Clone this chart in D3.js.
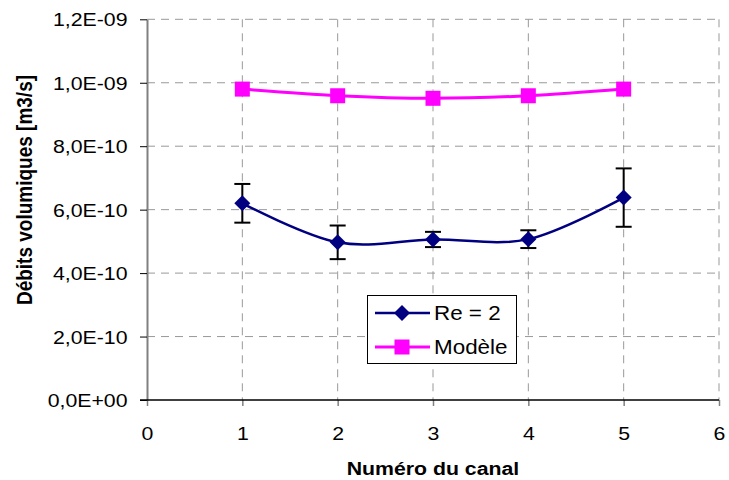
<!DOCTYPE html>
<html>
<head>
<meta charset="utf-8">
<script src="https://cdn.jsdelivr.net/npm/d3@7"></script>
<style>
  body { margin: 0; background: #fff; }
  svg { font-family: Arial, "Liberation Sans", sans-serif; }
</style>
</head>
<body>
<div id="chart"></div>
<script>
// data
const canaux = [1, 2, 3, 4, 5];
const reValues = [6.20e-10, 4.97e-10, 5.06e-10, 5.07e-10, 6.38e-10];
const reErrors = [0.61e-10, 0.53e-10, 0.24e-10, 0.28e-10, 0.92e-10];
const modeleValues = [9.80e-10, 9.59e-10, 9.51e-10, 9.59e-10, 9.80e-10];
const xTicks = [0, 1, 2, 3, 4, 5, 6];
const yTicks = [0, 2e-10, 4e-10, 6e-10, 8e-10, 1.0e-9, 1.2e-9];

const width = 729, height = 480;
const stretch = 1.15; // the original picture is a bit wider than tall

const svg = d3.select("#chart").append("svg")
  .attr("width", width)
  .attr("height", height);

const x = d3.scaleLinear().domain([0, 6]).range([147, 719]);
const y = d3.scaleLinear().domain([0, 1.2e-9]).range([400, 19.3]);

function fmtSci(v) {
  if (v === 0) return "0,0E+00";
  let e = Math.floor(Math.log10(v) + 1e-9);
  let m = v / Math.pow(10, e);
  const s = m.toFixed(1).replace(".", ",");
  const es = (e < 0 ? "-" : "+") + String(Math.abs(e)).padStart(2, "0");
  return s + "E" + es;
}

// grid
const grid = svg.append("g")
  .attr("stroke", "#999")
  .attr("stroke-width", 1)
  .attr("stroke-dasharray", "8,6");

grid.selectAll("line.h")
  .data(yTicks.filter(d => d > 0))
  .enter().append("line")
  .attr("x1", x(0)).attr("x2", x(6))
  .attr("y1", d => y(d)).attr("y2", d => y(d));

grid.selectAll("line.v")
  .data(xTicks.filter(d => d > 0))
  .enter().append("line")
  .attr("x1", d => x(d)).attr("x2", d => x(d))
  .attr("y1", y(1.2e-9)).attr("y2", y(0));

// axes
const yAxis = svg.append("g")
  .attr("transform", `translate(${x(0)},0)`)
  .call(d3.axisLeft(y).tickValues(yTicks).tickFormat(fmtSci).tickSize(7).tickSizeOuter(0));
yAxis.select(".domain").attr("stroke", "#808080").attr("stroke-width", 2);
yAxis.selectAll(".tick line").attr("stroke", "#000");
yAxis.selectAll(".tick text")
  .attr("x", -17)
  .attr("dy", "0.36em")
  .attr("transform", `scale(${stretch},1)`)
  .attr("font-size", 18.5)
  .attr("fill", "#000");

const xAxis = svg.append("g")
  .attr("transform", `translate(0,${y(0)})`)
  .call(d3.axisBottom(x).tickValues(xTicks).tickFormat(d3.format("d")).tickSize(6).tickSizeOuter(0));
xAxis.select(".domain").remove();
xAxis.append("line")
  .attr("x1", x(0) - 7).attr("x2", x(6))
  .attr("stroke", "#000").attr("stroke-width", 1.5);
xAxis.selectAll(".tick line").attr("stroke", "#808080").attr("stroke-width", 1.5);
xAxis.selectAll(".tick text")
  .attr("y", 40)
  .attr("dy", 0)
  .attr("transform", `scale(${stretch},1)`)
  .attr("font-size", 18.5)
  .attr("fill", "#000");

// axis titles
svg.append("text")
  .attr("transform", `translate(433,475) scale(${stretch},1)`)
  .attr("text-anchor", "middle")
  .attr("font-weight", "bold")
  .attr("font-size", 18.5)
  .text("Numéro du canal");

svg.append("text")
  .attr("transform", `translate(32,190) rotate(-90) scale(1,${stretch})`)
  .attr("text-anchor", "middle")
  .attr("font-weight", "bold")
  .attr("font-size", 19)
  .text("Débits volumiques [m3/s]");

// series
const line = d3.line()
  .x((d, i) => x(canaux[i]))
  .y(d => y(d))
  .curve(d3.curveCatmullRom.alpha(0));

svg.append("path")
  .datum(modeleValues)
  .attr("d", line)
  .attr("fill", "none")
  .attr("stroke", "#FF00FF")
  .attr("stroke-width", 3);

svg.selectAll("rect.modele")
  .data(modeleValues)
  .enter().append("rect")
  .attr("class", "modele")
  .attr("x", (d, i) => x(canaux[i]) - 7.5)
  .attr("y", d => y(d) - 7.5)
  .attr("width", 15).attr("height", 15)
  .attr("fill", "#FF00FF");

// error bars
const err = svg.append("g").attr("stroke", "#000").attr("stroke-width", 2);
reValues.forEach((v, i) => {
  const cx = x(canaux[i]);
  const top = y(v + reErrors[i]), bot = y(v - reErrors[i]);
  err.append("line").attr("x1", cx).attr("x2", cx).attr("y1", top).attr("y2", bot);
  err.append("line").attr("x1", cx - 8).attr("x2", cx + 8).attr("y1", top).attr("y2", top);
  err.append("line").attr("x1", cx - 8).attr("x2", cx + 8).attr("y1", bot).attr("y2", bot);
});

svg.append("path")
  .datum(reValues)
  .attr("d", line)
  .attr("fill", "none")
  .attr("stroke", "#000080")
  .attr("stroke-width", 2.5);

const diamond = "M0,-8L8,0L0,8L-8,0Z";
svg.selectAll("path.re")
  .data(reValues)
  .enter().append("path")
  .attr("class", "re")
  .attr("transform", (d, i) => `translate(${x(canaux[i])},${y(d)})`)
  .attr("d", diamond)
  .attr("fill", "#000080");

// legend
const legend = svg.append("g");
legend.append("rect")
  .attr("x", 367.5).attr("y", 295.5)
  .attr("width", 149).attr("height", 68)
  .attr("fill", "#fff")
  .attr("stroke", "#000").attr("stroke-width", 1);

const legendItems = [
  { label: "Re = 2", color: "#000080", shape: "diamond", yy: 313 },
  { label: "Modèle", color: "#FF00FF", shape: "square", yy: 347 }
];
legendItems.forEach(it => {
  legend.append("line")
    .attr("x1", 375).attr("x2", 430)
    .attr("y1", it.yy).attr("y2", it.yy)
    .attr("stroke", it.color).attr("stroke-width", it.shape === "square" ? 3 : 2.5);
  if (it.shape === "square") {
    legend.append("rect")
      .attr("x", 402 - 7.5).attr("y", it.yy - 7.5)
      .attr("width", 15).attr("height", 15)
      .attr("fill", it.color);
  } else {
    legend.append("path")
      .attr("transform", `translate(402,${it.yy})`)
      .attr("d", diamond)
      .attr("fill", it.color);
  }
  legend.append("text")
    .attr("transform", `translate(434,${it.yy + 7}) scale(${stretch},1)`)
    .attr("font-size", 19.5)
    .text(it.label);
});
</script>
</body>
</html>
